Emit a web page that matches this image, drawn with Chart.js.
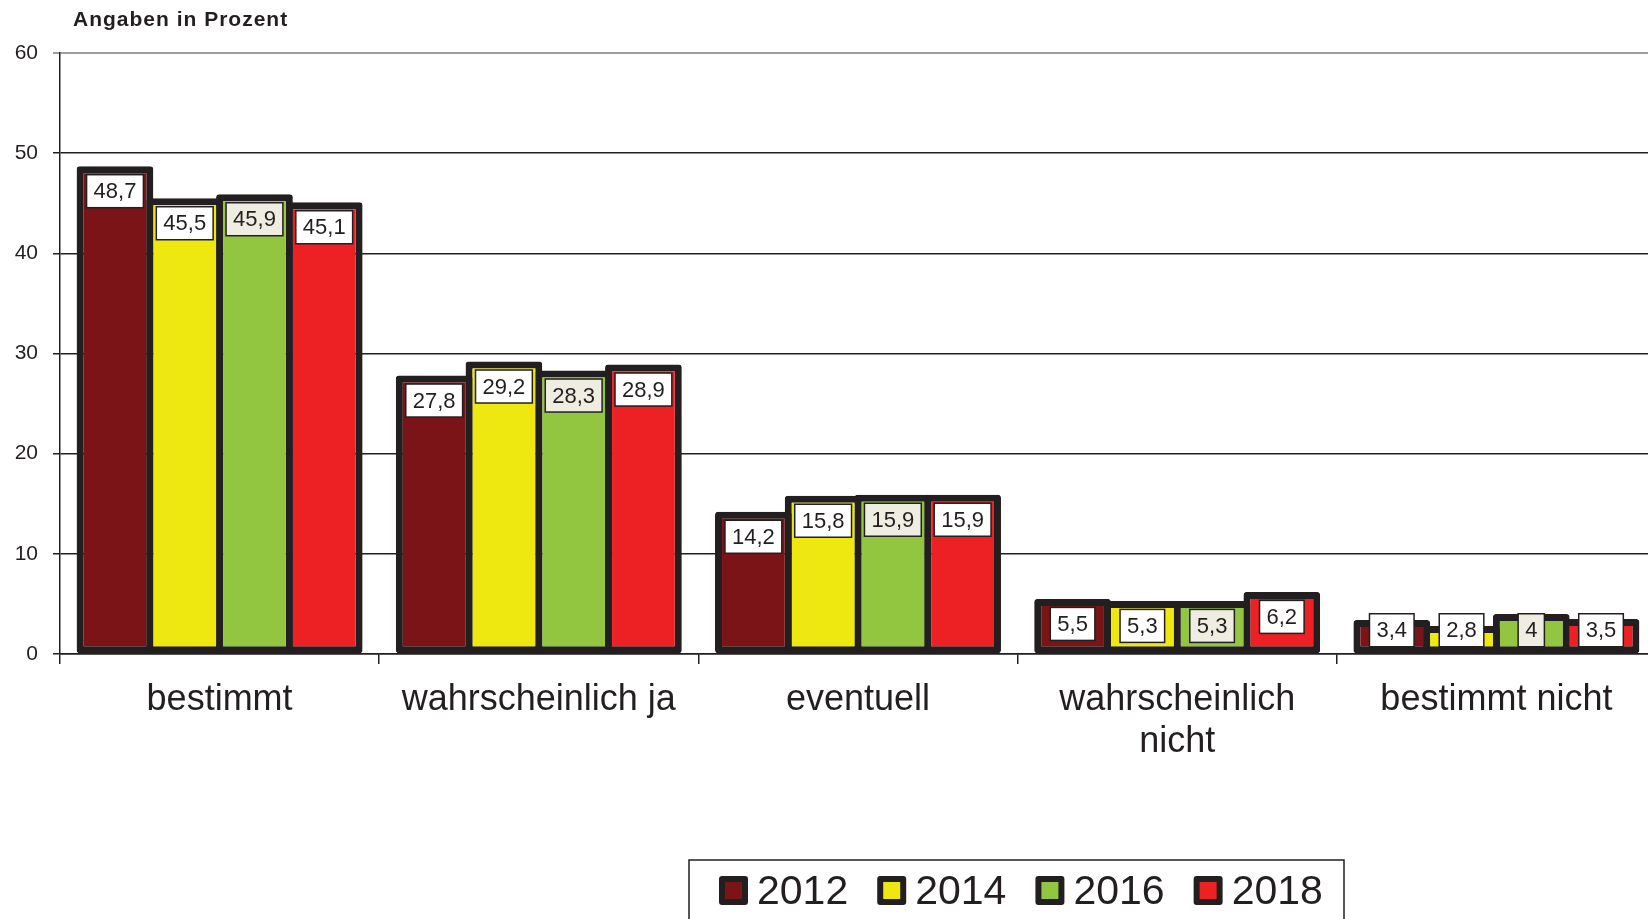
<!DOCTYPE html>
<html>
<head>
<meta charset="utf-8">
<script src="https://cdn.jsdelivr.net/npm/chart.js@4"></script>
<style>
  html, body { margin: 0; background: #fff; overflow: hidden; }
  #wrap { width: 1648px; height: 919px; overflow: hidden; }
</style>
</head>
<body>
<div id="wrap"><canvas id="barChart" width="1656" height="919"></canvas></div>
<script>
// data
const categories = ['bestimmt', 'wahrscheinlich ja', 'eventuell', ['wahrscheinlich', 'nicht'], 'bestimmt nicht'];
const years = ['2012', '2014', '2016', '2018'];
const v2012 = [48.7, 27.8, 14.2, 5.5, 3.4];
const v2014 = [45.5, 29.2, 15.8, 5.3, 2.8];
const v2016 = [45.9, 28.3, 15.9, 5.3, 4];
const v2018 = [45.1, 28.9, 15.9, 6.2, 3.5];
const yMax = 60;
const yStep = 10;

const INK = '#231f20';
const FONT = "'Liberation Sans', Arial, sans-serif";
const fills = ['#7b1416', '#eee810', '#93c640', '#ed2024'];
const labelFills = ['#ffffff', '#ffffff', '#efece2', '#ffffff'];

function fmt(v) {
    return String(v).replace('.', ',');
}

// title top left
const titlePlugin = {
    id: 'titleText',
    afterDraw(chart) {
        const ctx = chart.ctx;
        ctx.save();
        ctx.font = 'bold 21px ' + FONT;
        ctx.letterSpacing = '1px';
        ctx.fillStyle = INK;
        ctx.textBaseline = 'alphabetic';
        ctx.fillText('Angaben in Prozent', 73, 26);
        ctx.restore();
    }
};

// value boxes near the top of each bar
const valueLabels = {
    id: 'valueLabels',
    afterDatasetsDraw(chart) {
        const ctx = chart.ctx;
        ctx.save();
        ctx.font = '22px ' + FONT;
        ctx.textAlign = 'center';
        ctx.textBaseline = 'middle';
        chart.data.datasets.forEach((ds, i) => {
            const meta = chart.getDatasetMeta(i);
            meta.data.forEach((bar, j) => {
                const txt = fmt(ds.data[j]);
                const w = ctx.measureText(txt).width + 14;
                const h = 33;
                const cy = Math.min(bar.y + 25, bar.base - 23);
                ctx.fillStyle = labelFills[i];
                ctx.fillRect(bar.x - w / 2, cy - h / 2, w, h);
                ctx.lineWidth = 1.5;
                ctx.strokeStyle = INK;
                ctx.strokeRect(bar.x - w / 2, cy - h / 2, w, h);
                ctx.fillStyle = INK;
                ctx.fillText(txt, bar.x, cy + 1);
            });
        });
        ctx.restore();
    }
};

// framed legend at the bottom
const legendBox = {
    id: 'legendBox',
    afterDraw(chart) {
        const ctx = chart.ctx;
        ctx.save();
        ctx.lineWidth = 1.5;
        ctx.strokeStyle = INK;
        ctx.strokeRect(689, 860, 655, 80);
        ctx.font = '41px ' + FONT;
        ctx.textBaseline = 'alphabetic';
        let x = 719;
        chart.data.datasets.forEach((ds) => {
            ctx.fillStyle = INK;
            ctx.beginPath();
            ctx.roundRect(x, 876, 29, 29, 3);
            ctx.fill();
            ctx.fillStyle = ds.backgroundColor;
            ctx.fillRect(x + 6, 882, 17, 17);
            ctx.fillStyle = INK;
            ctx.fillText(ds.label, x + 38, 904);
            x += 38 + ctx.measureText(ds.label).width + 29;
        });
        ctx.restore();
    }
};

const seriesValues = [v2012, v2014, v2016, v2018];

const CHART = document.getElementById('barChart');
let barChart = new Chart(CHART, {
    type: 'bar',
    data: {
        labels: categories,
        datasets: years.map((y, i) => ({
            label: y,
            data: seriesValues[i],
            backgroundColor: fills[i],
            borderColor: INK,
            borderWidth: 7,
            borderSkipped: false,
            borderRadius: 3,
            categoryPercentage: 0.874,
            barPercentage: 1.1
        }))
    },
    options: {
        responsive: false,
        animation: false,
        layout: { padding: { top: 53, right: 0, left: 0, bottom: 0 } },
        plugins: {
            legend: { display: false },
            tooltip: { enabled: false }
        },
        scales: {
            x: {
                afterFit(scale) { scale.height = 265; },
                grid: {
                    offset: true,
                    drawOnChartArea: false,
                    tickLength: 10,
                    color: INK,
                    lineWidth: 1.5
                },
                border: { color: INK, width: 1.5 },
                ticks: {
                    color: INK,
                    padding: 15,
                    font: { family: FONT, size: 36, lineHeight: 1.17 }
                }
            },
            y: {
                min: 0,
                max: yMax,
                afterFit(scale) { scale.width = 60; },
                grid: {
                    tickLength: 7,
                    color: (c) => c.tick && c.tick.value === yMax ? '#9d9d9d' : INK,
                    lineWidth: (c) => c.tick && c.tick.value === yMax ? 2 : 1.5
                },
                border: { color: INK, width: 1.5 },
                ticks: {
                    stepSize: yStep,
                    color: INK,
                    padding: 15,
                    font: { family: FONT, size: 21 }
                }
            }
        }
    },
    plugins: [titlePlugin, valueLabels, legendBox]
});
</script>
</body>
</html>
